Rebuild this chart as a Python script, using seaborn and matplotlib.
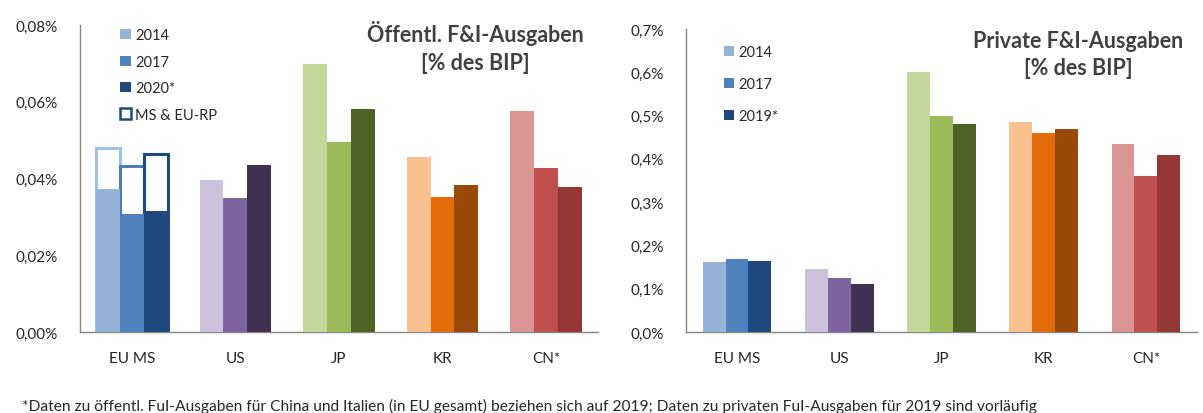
import pandas as pd
import seaborn as sns
import matplotlib
matplotlib.use("Agg")
from matplotlib import pyplot as plt
from matplotlib.patches import Patch
from matplotlib.ticker import FuncFormatter, FixedLocator

# Länder und Jahre
laender = ["EU MS", "US", "JP", "KR", "CN*"]
jahre_oeff = ["2014", "2017", "2020*"]
jahre_priv = ["2014", "2017", "2019*"]

# öffentliche F&I-Ausgaben [% des BIP]
oeff_2014 = [0.0372, 0.0396, 0.0698, 0.0457, 0.0577]
oeff_2017 = [0.0308, 0.0348, 0.0494, 0.0352, 0.0427]
oeff_2020 = [0.0314, 0.0434, 0.0580, 0.0382, 0.0379]
# EU MS inkl. EU-Rahmenprogramm (Rahmen)
eu_rahmen = [0.0480, 0.0432, 0.0463]

# private F&I-Ausgaben [% des BIP]
priv_2014 = [0.162, 0.145, 0.600, 0.485, 0.435]
priv_2017 = [0.168, 0.125, 0.500, 0.460, 0.360]
priv_2019 = [0.165, 0.111, 0.480, 0.470, 0.410]

# Farben je Land (hell, mittel, dunkel)
farben = {
    "EU MS": ["#95B3D7", "#4F81BD", "#1F497D"],
    "US": ["#CCC1DA", "#8064A2", "#403151"],
    "JP": ["#C3D69B", "#9BBB59", "#4F6228"],
    "KR": ["#FAC090", "#E46C0A", "#984807"],
    "CN*": ["#D99694", "#C0504D", "#953735"],
}
rahmen_farben = ["#9DC3E6", "#4A7EBB", "#1F497D"]

sns.set_style("white")
plt.rcParams["font.family"] = ["Lato", "DejaVu Sans"]

fig = plt.figure(figsize=(12.03, 4.14), dpi=100)
ax1 = fig.add_axes([0.0665, 0.1957, 0.4305, 0.7415])
ax2 = fig.add_axes([0.5702, 0.1957, 0.4248, 0.7318])


def lang_tabelle(jahre, reihen):
    zeilen = []
    for jahr, werte in zip(jahre, reihen):
        for land, w in zip(laender, werte):
            zeilen.append({"Land": land, "Jahr": jahr, "Wert": w})
    return pd.DataFrame(zeilen)


def balken(ax, df, jahre, breite):
    sns.barplot(data=df, x="Land", y="Wert", hue="Jahr", order=laender,
                hue_order=jahre, width=breite, gap=0, linewidth=0,
                legend=False, ax=ax, zorder=3)
    for i, cont in enumerate(ax.containers[-len(jahre):]):
        for j, patch in enumerate(cont.patches):
            patch.set_facecolor(farben[laender[j]][i])
            patch.set_edgecolor("none")


def achsen(ax, ymax, schritt, nk):
    ax.set_xlim(-0.5, len(laender) - 0.5)
    ax.set_ylim(0, ymax)
    ax.set_xlabel("")
    ax.set_ylabel("")
    for s in ["top", "right"]:
        ax.spines[s].set_visible(False)
    for s in ["left", "bottom"]:
        ax.spines[s].set_color("#868686")
        ax.spines[s].set_linewidth(1.0)
    ticks = [i * schritt for i in range(int(round(ymax / schritt)) + 1)]
    ax.set_yticks(ticks)
    ax.yaxis.set_major_formatter(FuncFormatter(
        lambda v, p: f"{v:.{nk}f}%".replace(".", ",")))
    ax.tick_params(axis="y", direction="out", length=4, width=1,
                   color="#868686", labelsize=11, labelcolor="#262626", pad=12)
    ax.tick_params(axis="x", which="major", length=0, labelsize=11,
                   labelcolor="#262626", pad=14)
    ax.xaxis.set_minor_locator(FixedLocator([i - 0.5 for i in range(len(laender) + 1)]))
    ax.tick_params(axis="x", which="minor", direction="in", length=4, width=1,
                   color="#868686")
    ax.grid(False)


# links: öffentliche Ausgaben
df_oeff = lang_tabelle(jahre_oeff, [oeff_2014, oeff_2017, oeff_2020])
df_rahmen = pd.DataFrame({"Land": ["EU MS"] * 3, "Jahr": jahre_oeff, "Wert": eu_rahmen})
sns.barplot(data=df_rahmen, x="Land", y="Wert", hue="Jahr", order=laender,
            hue_order=jahre_oeff, width=0.69, gap=0, legend=False, ax=ax1,
            zorder=2)
for i, cont in enumerate(ax1.containers):
    for patch in cont.patches:
        patch.set_facecolor("white")
        patch.set_edgecolor(rahmen_farben[i])
        patch.set_linewidth(2.2)
balken(ax1, df_oeff, jahre_oeff, 0.69)
achsen(ax1, 0.08, 0.02, 2)

# rechts: private Ausgaben
df_priv = lang_tabelle(jahre_priv, [priv_2014, priv_2017, priv_2019])
balken(ax2, df_priv, jahre_priv, 0.67)
achsen(ax2, 0.7, 0.1, 1)

# Legenden
eu = farben["EU MS"]
h1 = [Patch(facecolor=eu[i], edgecolor="none", label=j) for i, j in enumerate(jahre_oeff)]
h1.append(Patch(facecolor="white", edgecolor="#1F497D", linewidth=1.8, label="MS & EU-RP"))
ax1.legend(handles=h1, loc="upper left", bbox_to_anchor=(0.100, 0.929),
           bbox_transform=fig.transFigure, frameon=False, fontsize=10.5,
           handlelength=0.7, handleheight=0.7, handletextpad=0.3,
           labelspacing=0.85, borderaxespad=0, borderpad=0)

h2 = [Patch(facecolor=eu[i], edgecolor="none", label=j) for i, j in enumerate(jahre_priv)]
ax2.legend(handles=h2, loc="upper left", bbox_to_anchor=(0.602, 0.889),
           bbox_transform=fig.transFigure, frameon=False, fontsize=10.5,
           handlelength=0.7, handleheight=0.7, handletextpad=0.3,
           labelspacing=1.25, borderaxespad=0, borderpad=0)

# Titel
fig.text(0.395, 0.886, "Öffentl. F&I-Ausgaben\n[% des BIP]", ha="center",
         va="center", fontsize=15.5, fontweight="bold", color="#404040",
         linespacing=1.4)
fig.text(0.896, 0.867, "Private F&I-Ausgaben\n[% des BIP]", ha="center",
         va="center", fontsize=15.5, fontweight="bold", color="#404040",
         linespacing=1.4)

# Fußnote
fig.text(0.018, 0.017, "*Daten zu öffentl. FuI-Ausgaben für China und Italien (in EU gesamt) "
         "beziehen sich auf 2019; Daten zu privaten FuI-Ausgaben für 2019 sind vorläufig",
         ha="left", va="center", fontsize=11.2, color="#262626")

fig.savefig("out.png", dpi=100)
